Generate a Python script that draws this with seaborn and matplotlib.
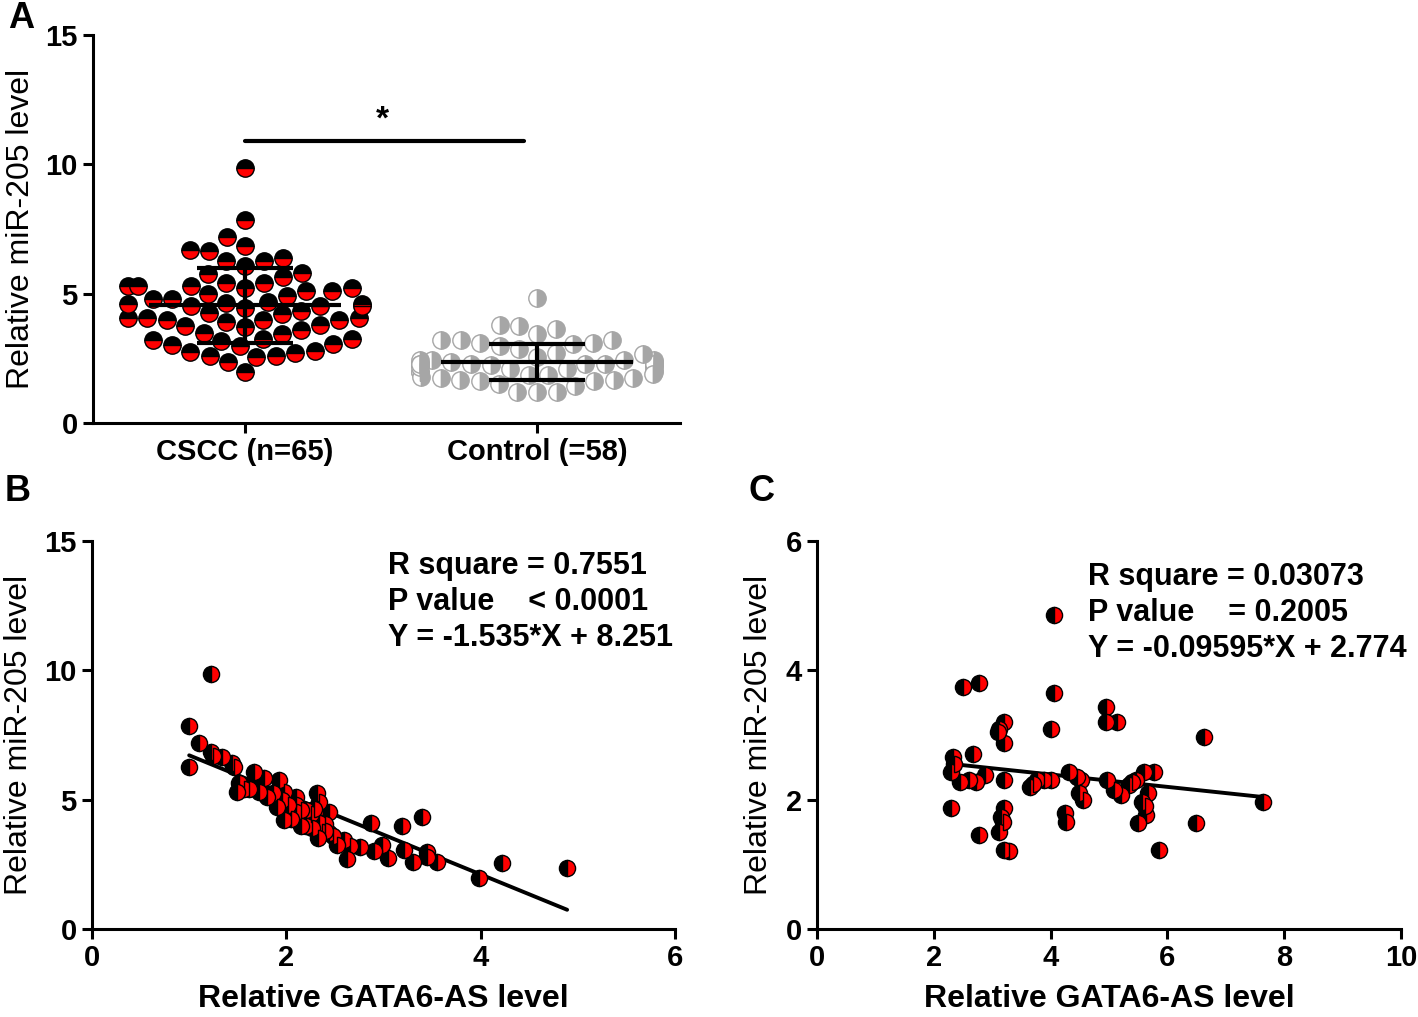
import matplotlib
matplotlib.use("Agg")
import matplotlib.pyplot as plt
from matplotlib.markers import MarkerStyle
import numpy as np
import pandas as pd
import seaborn as sns

# CSCC samples (panel B, and the CSCC column of panel A)
cscc_gata6 = [1.22, 1.00, 1.10, 1.22, 1.24, 1.34, 1.44, 1.46, 1.00, 1.67,
              1.77, 1.92, 1.51, 1.56, 1.49, 1.72, 1.86, 1.98, 2.10, 2.32,
              2.34, 1.96, 2.10, 2.20, 2.10, 2.30, 2.44, 1.98, 2.20, 2.34,
              2.37, 2.44, 2.59, 2.76, 2.87, 2.98, 3.19, 3.21, 3.40, 3.45,
              3.45, 3.55, 3.98, 4.22, 4.89, 1.62, 1.80, 1.90, 2.02, 2.15,
              2.25, 2.28, 2.05, 2.15, 2.26, 2.40, 2.40, 2.33, 2.48, 2.52,
              2.66, 2.90, 3.05, 2.62, 3.30]
cscc_mir205 = [9.85, 7.84, 7.18, 6.85, 6.70, 6.65, 6.40, 6.26, 6.27, 6.07,
               5.82, 5.75, 5.63, 5.43, 5.30, 5.30, 5.24, 5.30, 5.10, 5.24,
               4.92, 4.98, 4.79, 4.60, 4.53, 4.53, 4.53, 4.20, 4.00, 4.08,
               3.76, 3.70, 3.43, 3.18, 4.08, 3.24, 4.00, 3.05, 4.34, 2.98,
               2.79, 2.60, 1.97, 2.56, 2.35, 5.40, 5.10, 4.70, 4.80, 4.60,
               4.45, 4.65, 4.25, 4.00, 3.90, 4.05, 3.80, 3.50, 3.60, 3.25,
               3.20, 3.00, 2.75, 2.70, 2.60]

# control samples (panel C, and the Control column of panel A)
ctrl_gata6 = [2.50, 2.78, 4.06, 4.94, 4.95, 5.14, 3.21, 3.12, 3.21, 4.01,
              6.63, 2.33, 2.67, 2.30, 2.44, 2.73, 2.87, 3.21, 3.64, 3.77,
              3.89, 4.01, 4.32, 4.52, 4.49, 4.55, 4.97, 5.20, 5.35, 5.46,
              5.60, 5.77, 5.66, 5.57, 5.63, 5.49, 6.49, 5.86, 7.63, 2.30,
              3.21, 3.15, 4.24, 4.26, 2.78, 3.12, 3.21, 3.29, 4.06, 2.35,
              3.10, 3.70, 4.45, 5.08, 5.40, 5.62, 3.18, 2.60]
ctrl_mir205 = [3.75, 3.81, 3.65, 3.44, 3.20, 3.20, 3.20, 3.10, 2.87, 3.10,
               2.97, 2.66, 2.71, 2.43, 2.28, 2.28, 2.38, 2.30, 2.20, 2.30,
               2.30, 2.30, 2.43, 2.30, 2.10, 1.99, 2.30, 2.07, 2.23, 2.30,
               2.43, 2.43, 2.10, 1.97, 1.76, 1.64, 1.64, 1.22, 1.97, 1.87,
               1.87, 1.74, 1.79, 1.66, 1.45, 1.50, 1.22, 1.21, 4.85, 2.55,
               3.05, 2.25, 2.35, 2.15, 2.28, 1.90, 1.65, 2.30]

group_labels = ["CSCC (n=65)", "Control (=58)"]
fit_b = (-1.535, 8.251)
fit_c = (-0.09595, 2.774)
stats_b = ["R square = 0.7551", "P value    < 0.0001", "Y = -1.535*X + 8.251"]
stats_c = ["R square = 0.03073", "P value    = 0.2005", "Y = -0.09595*X + 2.774"]

sns.set_style("ticks")
plt.rcParams["font.family"] = ["Liberation Sans", "DejaVu Sans"]
plt.rcParams.update({
    "axes.linewidth": 2.2,
    "axes.edgecolor": "black",
    "axes.labelcolor": "black",
    "text.color": "black",
    "xtick.color": "black",
    "ytick.color": "black",
})

TICK = 21
LABEL = 23
RED = "#ff0000"
GRAY = "#a6a6a6"

fig = plt.figure(figsize=(14.18, 10.17), dpi=100)
axA = fig.add_axes([0.0656, 0.584, 0.414, 0.3815])
axB = fig.add_axes([0.0649, 0.0865, 0.4111, 0.3815])
axC = fig.add_axes([0.5762, 0.0865, 0.4118, 0.3815])

for ax in (axA, axB, axC):
    sns.despine(ax=ax)
    ax.tick_params(width=2.2, length=7, labelsize=TICK, pad=4)

# ---- panel A: scatter dot plot with mean +- SD
dfA = pd.DataFrame({
    "group": [group_labels[0]] * len(cscc_mir205) + [group_labels[1]] * len(ctrl_mir205),
    "mir205": cscc_mir205 + ctrl_mir205,
})
halves = {
    group_labels[0]: [("top", "black", "black"), ("bottom", RED, "black")],
    group_labels[1]: [("left", "white", GRAY), ("right", GRAY, GRAY)],
}
for g in group_labels:
    sub = dfA[dfA["group"] == g]
    for fs, fc, ec in halves[g]:
        sns.swarmplot(data=sub, x="group", y="mir205", order=group_labels,
                      marker=MarkerStyle("o", fillstyle=fs), color=fc,
                      edgecolor=ec, linewidth=1, size=12.5, ax=axA, zorder=3)

for i, g in enumerate(group_labels):
    vals = dfA.loc[dfA["group"] == g, "mir205"]
    m, sd = vals.mean(), vals.std()
    axA.hlines(m, i - 0.33, i + 0.33, color="black", lw=3, zorder=5)
    axA.vlines(i, m - sd, m + sd, color="black", lw=3, zorder=5)
    axA.hlines([m - sd, m + sd], i - 0.165, i + 0.165, color="black", lw=3, zorder=5)

sig_y = 10.9
axA.plot([0, 0.955], [sig_y, sig_y], color="black", lw=3)
axA.text(0.47, sig_y + 0.2, "*", ha="center", va="bottom", fontsize=24, fontweight="bold")

axA.set_xlim(-0.52, 1.49)
axA.set_ylim(0, 15)
axA.set_yticks([0, 5, 10, 15])
axA.set_xlabel("")
axA.set_ylabel("Relative miR-205 level", fontsize=LABEL)
axA.yaxis.set_label_coords(-0.097, 0.5)
for lab in axA.get_xticklabels() + axA.get_yticklabels():
    lab.set_fontweight("bold")
    lab.set_fontsize(TICK)


def corr_panel(ax, x, y, fit, stats, xlim, xticks, ylim, yticks, tx, ty, ylab_x):
    x = np.asarray(x)
    xs = np.array([x.min(), x.max()])
    sns.lineplot(x=xs, y=fit[0] * xs + fit[1], color="black", lw=2.8, ax=ax, zorder=2)
    for fs, fc in (("left", "black"), ("right", RED)):
        sns.scatterplot(x=x, y=y, marker=MarkerStyle("o", fillstyle=fs), color=fc,
                        edgecolor="black", linewidth=1, s=135, ax=ax, zorder=3)
    ax.set_xlim(*xlim)
    ax.set_xticks(xticks)
    ax.set_ylim(*ylim)
    ax.set_yticks(yticks)
    for lab in ax.get_xticklabels() + ax.get_yticklabels():
        lab.set_fontweight("bold")
        lab.set_fontsize(TICK)
    ax.set_xlabel("Relative GATA6-AS level", fontsize=LABEL, fontweight="bold")
    ax.xaxis.set_label_coords(0.5, -0.142)
    ax.set_ylabel("Relative miR-205 level", fontsize=LABEL)
    ax.yaxis.set_label_coords(ylab_x, 0.5)
    for k, s in enumerate(stats):
        ax.text(tx, ty - 0.093 * k, s, transform=ax.transAxes, ha="left", va="center",
                fontsize=22, fontweight="bold")


corr_panel(axB, cscc_gata6, cscc_mir205, fit_b, stats_b, (0, 6), [0, 2, 4, 6],
           (0, 15), [0, 5, 10, 15], 0.508, 0.9356, -0.099)
corr_panel(axC, ctrl_gata6, ctrl_mir205, fit_c, stats_c, (0, 10), [0, 2, 4, 6, 8, 10],
           (0, 6), [0, 2, 4, 6], 0.464, 0.907, -0.074)

for letter, fx, fy in (("A", 0.006, 0.982), ("B", 0.003, 0.517), ("C", 0.528, 0.517)):
    fig.text(fx, fy, letter, fontsize=26, fontweight="bold", ha="left", va="center")

fig.savefig("out.png", dpi=100)
